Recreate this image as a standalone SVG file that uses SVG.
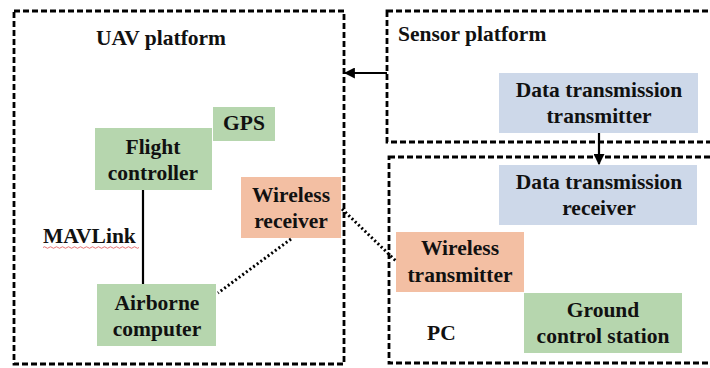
<svg xmlns="http://www.w3.org/2000/svg" width="710" height="368" viewBox="0 0 710 368">
  <defs>
    <marker id="arrow" viewBox="0 0 10 10" refX="9" refY="5" markerWidth="5" markerHeight="5" orient="auto-start-reverse" markerUnits="strokeWidth">
      <path d="M0,0 L10,5 L0,10 Z" fill="#000"/>
    </marker>
    <style>
      text { font-family: "Liberation Serif", "Times New Roman", serif; font-weight: bold; font-size: 21.5px; fill: #111; }
      .c { text-anchor: middle; }
      .frame { fill: none; stroke: #000; stroke-width: 2.8; stroke-dasharray: 6 3; }
      .green { fill: #b6d6ae; }
      .blue { fill: #cdd8e9; }
      .salmon { fill: #f3bfa3; }
      .link { fill: none; stroke: #000; stroke-width: 2.2; }
      .dotted { fill: none; stroke: #000; stroke-width: 3; stroke-dasharray: 2 2.5; }
    </style>
  </defs>

  <rect width="710" height="368" fill="#fff"/>

  <!-- Platform frames -->
  <g id="uav-platform">
    <rect class="frame" x="14" y="11" width="330" height="353"/>
    <text x="161" y="45" class="c">UAV platform</text>
  </g>
  <g id="sensor-platform">
    <rect class="frame" x="387" y="11" width="340" height="131"/>
    <text x="398" y="41">Sensor platform</text>
  </g>
  <g id="pc">
    <rect class="frame" x="389" y="157" width="340" height="206"/>
    <text x="427" y="340">PC</text>
  </g>

  <!-- UAV side nodes -->
  <g id="gps">
    <rect class="green" x="213" y="107" width="62" height="34"/>
    <text x="244" y="130" class="c">GPS</text>
  </g>
  <g id="flight-controller">
    <rect class="green" x="95" y="128" width="117" height="62"/>
    <text x="153" y="154" class="c">Flight</text>
    <text x="153" y="180" class="c">controller</text>
  </g>
  <g id="wireless-receiver">
    <rect class="salmon" x="241" y="177" width="100" height="61"/>
    <text x="291" y="202" class="c">Wireless</text>
    <text x="291" y="228" class="c">receiver</text>
  </g>
  <g id="airborne-computer">
    <rect class="green" x="97" y="284" width="119" height="62"/>
    <text x="157" y="310" class="c">Airborne</text>
    <text x="157" y="336" class="c">computer</text>
  </g>

  <!-- Sensor / ground side nodes -->
  <g id="dt-transmitter">
    <rect class="blue" x="499" y="73" width="199" height="60"/>
    <text x="599" y="97" class="c">Data transmission</text>
    <text x="599" y="123" class="c">transmitter</text>
  </g>
  <g id="dt-receiver">
    <rect class="blue" x="499" y="165" width="198" height="60"/>
    <text x="599" y="189" class="c">Data transmission</text>
    <text x="599" y="215" class="c">receiver</text>
  </g>
  <g id="wireless-transmitter">
    <rect class="salmon" x="396" y="232" width="128" height="60"/>
    <text x="460" y="255" class="c">Wireless</text>
    <text x="460" y="282" class="c">transmitter</text>
  </g>
  <g id="ground-control-station">
    <rect class="green" x="524" y="293" width="158" height="60"/>
    <text x="603" y="317" class="c">Ground</text>
    <text x="603" y="343" class="c">control station</text>
  </g>

  <!-- Connectors -->
  <g id="connectors">
    <line class="link" x1="387" y1="73" x2="345" y2="73" marker-end="url(#arrow)"/>
    <line class="link" x1="599" y1="133" x2="599" y2="164" marker-end="url(#arrow)"/>
    <line class="link" x1="143" y1="190" x2="143" y2="284"/>
    <line class="dotted" x1="291" y1="239" x2="218" y2="293"/>
    <line class="dotted" x1="342" y1="209" x2="397" y2="262"/>
    <text x="43" y="243">MAVLink</text>
    <path d="M43,247.5 q1.5,-1.5 3,0 t3,0 t3,0 t3,0 t3,0 t3,0 t3,0 t3,0 t3,0 t3,0 t3,0 t3,0 t3,0 t3,0 t3,0 t3,0 t3,0 t3,0 t3,0 t3,0 t3,0 t3,0 t3,0 t3,0 t3,0 t3,0 t3,0 t3,0 t3,0 t3,0 t3,0 t3,0" fill="none" stroke="#e05050" stroke-width="0.8"/>
  </g>
</svg>
